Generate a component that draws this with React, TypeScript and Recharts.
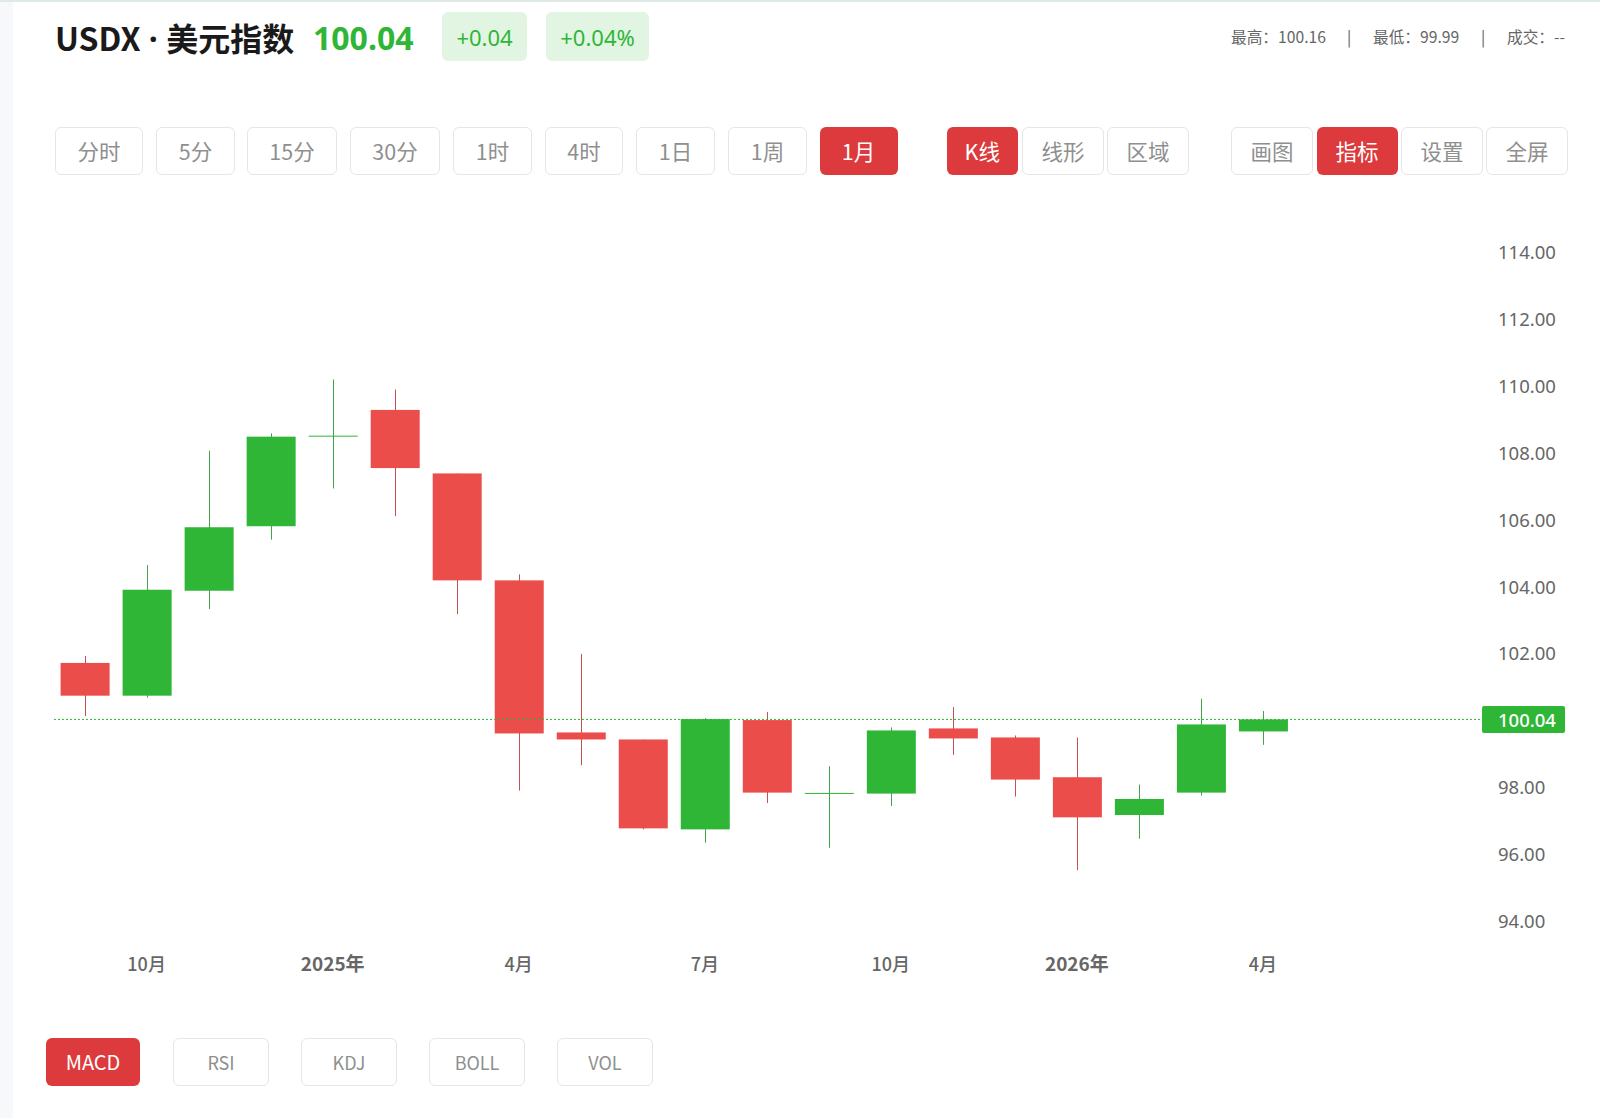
import React from "react";
import { ComposedChart, Bar, XAxis, YAxis, ReferenceLine } from "recharts";

const months = ["2024-09","2024-10","2024-11","2024-12","2025-01","2025-02","2025-03","2025-04","2025-05","2025-06","2025-07","2025-08","2025-09","2025-10","2025-11","2025-12","2026-01","2026-02","2026-03","2026-04","2026-05","2026-06","2026-07"];
const tickLabels = ["","10月","","","2025年","","","4月","","","7月","","","10月","","","2026年","","","4月","","",""];
const opens: (number|null)[] = [101.73,100.75,103.89,105.82,108.5,109.3,107.4,104.2,99.65,99.44,96.75,100.02,97.83,97.82,99.77,99.5,98.31,97.18,97.85,99.68,null,null,null];
const closes: (number|null)[] = [100.75,103.92,105.79,108.5,108.53,107.56,104.2,99.62,99.44,96.78,100.05,97.85,97.84,99.71,99.47,98.24,97.11,97.66,99.89,100.04,null,null,null];
const highs: (number|null)[] = [101.94,104.66,108.08,108.6,110.21,109.91,107.4,104.38,102,99.44,100.08,100.26,98.64,99.8,100.41,99.56,99.5,98.09,100.66,100.29,null,null,null];
const lows: (number|null)[] = [100.14,100.69,103.34,105.42,106.95,106.12,103.19,97.91,98.67,96.75,96.35,97.54,96.2,97.45,98.98,97.73,95.53,96.47,97.76,99.28,null,null,null];
const priceTicks = [94,96,98,102,104,106,108,110,112,114];
const lastPrice = 100.04;

const periodButtons = ["分时","5分","15分","30分","1时","4时","1日","1周","1月"];
const styleButtons = ["K线","线形","区域"];
const toolButtons = ["画图","指标","设置","全屏"];
const indicatorButtons = ["MACD","RSI","KDJ","BOLL","VOL"];

const periodX = [[55,143],[156,235],[247,337],[350,440],[453,532],[545,623],[636,715],[728,807],[819.5,897.5]];
const styleX = [[946.5,1018],[1022,1104],[1107,1189]];
const toolX = [[1231,1313],[1316.5,1397.5],[1401,1483],[1486,1568]];
const indicatorX = [[46,140],[173,269],[301,397],[429,525],[557,653]];

const GREEN = "#2fb637";
const RED = "#eb4d4a";
const WICK_GREEN = "#3fa548";
const WICK_RED = "#c9504e";
const ACTIVE = "#dc3a3c";
const FONT = '"Noto Sans CJK SC","Noto Sans",sans-serif';
const AXIS_FONT = '"Noto Sans","Noto Sans CJK SC",sans-serif';

const rows = months.map((m, i) => ({
  month: m,
  label: tickLabels[i],
  open: opens[i],
  close: closes[i],
  high: highs[i],
  low: lows[i],
  range: highs[i] == null ? null : [lows[i], highs[i]],
}));

function Candle(props: any) {
  const { x, y, width, height, payload } = props;
  if (payload.high == null) return null;
  const unit = height / (payload.high - payload.low);
  const up = payload.close >= payload.open;
  const top = Math.max(payload.open, payload.close);
  const bottom = Math.min(payload.open, payload.close);
  const cx = Math.round(x + width / 2) + 0.5;
  const bodyY = y + (payload.high - top) * unit;
  const bodyH = Math.max((top - bottom) * unit, 1);
  return (
    <g>
      <line x1={cx} x2={cx} y1={y} y2={y + height} stroke={up ? WICK_GREEN : WICK_RED} strokeWidth={1} />
      <rect x={x} y={bodyY} width={width} height={bodyH} fill={up ? GREEN : RED} />
    </g>
  );
}

function MonthTick(props: any) {
  const { x, y, payload, index } = props;
  const text = tickLabels[index ?? payload.index];
  if (!text) return null;
  return (
    <text x={x} y={y + 2} textAnchor="middle" dominantBaseline="central" fontFamily={FONT} fontSize={text.includes("年") ? 19 : 18}
      fontWeight={text.includes("年") ? 700 : 500} fill="#666666">{text}</text>
  );
}

function PriceTag(props: any) {
  const vb = props.viewBox;
  const right = vb.x + vb.width;
  return (
    <g>
      <rect x={right + 2} y={vb.y - 13.5} width={83} height={27} rx={2} fill={GREEN} />
      <text x={right + 18} y={vb.y + 0.5} dominantBaseline="central" fontFamily={AXIS_FONT} fontSize={18.5} fontWeight={500} fill="#ffffff">{lastPrice.toFixed(2)}</text>
    </g>
  );
}

function Btn({ label, span, top, height, active, size = 21.5 }: any) {
  return (
    <div style={{
      position: "absolute", left: span[0], top, width: span[1] - span[0], height, boxSizing: "border-box",
      display: "flex", alignItems: "center", justifyContent: "center", borderRadius: 6, paddingBottom: 1,
      background: active ? ACTIVE : "#ffffff", border: active ? "none" : "1px solid #e6e6e6",
      color: active ? "#ffffff" : "#8f8f8f", fontSize: size, fontFamily: FONT,
    }}>{label}</div>
  );
}

const statStyle: React.CSSProperties = { position: "absolute", top: 25, lineHeight: "24px", fontSize: 15.7, color: "#666666", whiteSpace: "nowrap" };

export default function App() {
  return (
    <div style={{ position: "absolute", left: 0, top: 0, width: 1600, height: 1118, background: "#ffffff", overflow: "hidden", fontFamily: FONT }}>
      <div style={{ position: "absolute", left: 0, top: 0, width: 13, height: 1118, background: "#f6f8fc" }} />
      <div style={{ position: "absolute", left: 0, top: 0, width: 1600, height: 2, background: "#dfeae6" }} />

      <div style={{ position: "absolute", left: 55, top: 13, height: 48, lineHeight: "48px", fontSize: 32, fontWeight: 700, color: "#1a1a1a", whiteSpace: "pre" }}>USDX<span style={{ fontFamily: AXIS_FONT }}> · </span>美元指数</div>
      <div style={{ position: "absolute", left: 313, top: 14, height: 48, lineHeight: "48px", fontSize: 32, fontWeight: 700, color: GREEN, fontFamily: AXIS_FONT }}>100.04</div>
      <div style={{ position: "absolute", left: 442, top: 12, width: 85, height: 49, borderRadius: 6, background: "#e1f5e2", color: GREEN, fontSize: 22, display: "flex", alignItems: "center", justifyContent: "center", fontFamily: AXIS_FONT }}>+0.04</div>
      <div style={{ position: "absolute", left: 546, top: 12, width: 103, height: 49, borderRadius: 6, background: "#e1f5e2", color: GREEN, fontSize: 22, display: "flex", alignItems: "center", justifyContent: "center", fontFamily: AXIS_FONT }}>+0.04%</div>

      <div style={{ ...statStyle, left: 1231 }}>最高：100.16</div>
      <div style={{ ...statStyle, left: 1347, color: "#555555" }}>|</div>
      <div style={{ ...statStyle, left: 1373 }}>最低：99.99</div>
      <div style={{ ...statStyle, left: 1481, color: "#555555" }}>|</div>
      <div style={{ ...statStyle, left: 1507 }}>成交：--</div>

      {periodButtons.map((b, i) => <Btn key={b} label={b} span={periodX[i]} top={127} height={48} active={b === "1月"} />)}
      {styleButtons.map((b, i) => <Btn key={b} label={b} span={styleX[i]} top={127} height={48} active={b === "K线"} />)}
      {toolButtons.map((b, i) => <Btn key={b} label={b} span={toolX[i]} top={127} height={48} active={b === "指标"} />)}
      {indicatorButtons.map((b, i) => <Btn key={b} label={b} span={indicatorX[i]} top={1038} height={48} active={b === "MACD"} size={b === "MACD" ? 20 : 18} />)}

      <div style={{ position: "absolute", left: 0, top: 0 }}>
        <ComposedChart width={1600} height={1000} data={rows} margin={{ left: 53.6, right: 0, top: 186, bottom: 15.3 }} barCategoryGap={0}>
          <XAxis dataKey="month" interval={0} axisLine={false} tickLine={false} height={30} tickMargin={0} tick={<MonthTick />} />
          <YAxis yAxisId="p" orientation="right" domain={[93, 116]} ticks={priceTicks} width={120} axisLine={false} tickLine={false} tickMargin={12}
            tickFormatter={(v: number) => v.toFixed(2)} tick={{ fill: "#666666", fontSize: 18.5, fontFamily: AXIS_FONT }} allowDataOverflow />
          <Bar yAxisId="p" dataKey="range" barSize={49} shape={<Candle />} isAnimationActive={false} />
          <ReferenceLine yAxisId="p" y={lastPrice} stroke={GREEN} strokeWidth={1} strokeDasharray="2 2" label={<PriceTag />} />
        </ComposedChart>
      </div>
    </div>
  );
}
